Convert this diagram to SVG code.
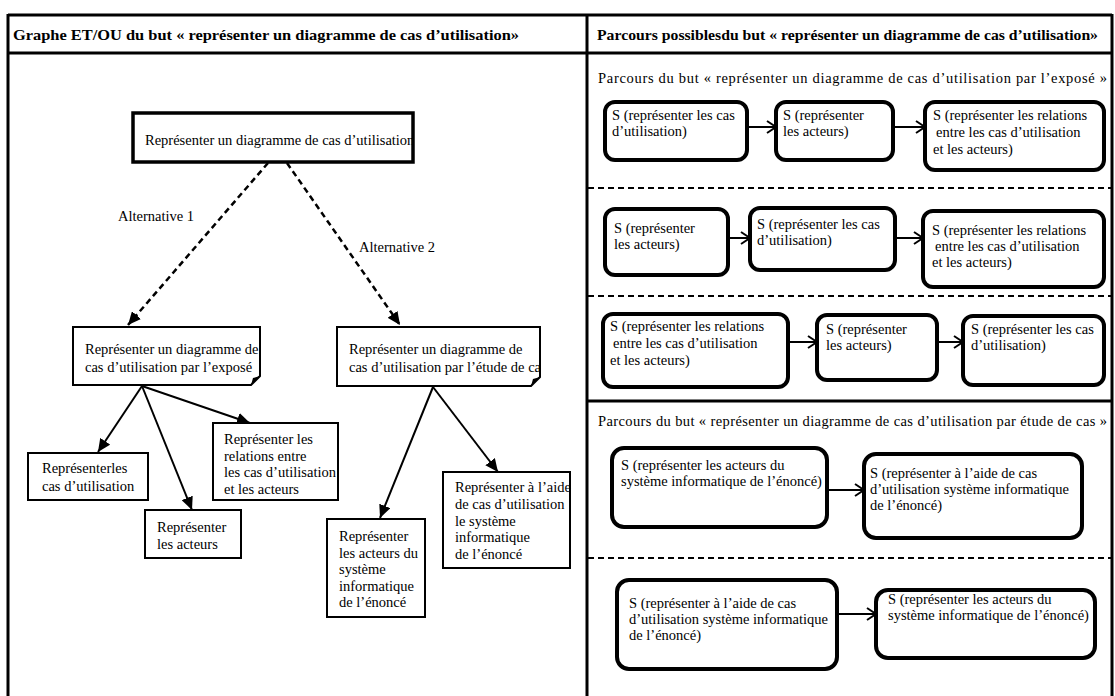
<svg xmlns="http://www.w3.org/2000/svg" width="1115" height="696" viewBox="0 0 1115 696">
<style>
.t{font-family:"Liberation Serif","Times New Roman","DejaVu Serif",serif;font-size:14.5px;fill:#000}
.hb{font-weight:bold;font-size:14px}
.box{fill:#fff;stroke:#000;stroke-width:2}
.rbox{fill:#fff;stroke:#000;stroke-width:4}
.conn{stroke:#000;stroke-width:2;fill:none}
.dash{stroke-dasharray:6 4;stroke-width:2.5}
.frame{stroke:#000;stroke-width:3;fill:none}
.sep{stroke:#000;stroke-width:2;stroke-dasharray:6 4;fill:none}
</style>
<defs>
<marker id="tri" markerUnits="userSpaceOnUse" markerWidth="14" markerHeight="12" refX="13" refY="6" orient="auto">
<path d="M0,0 L13,6 L0,12 z" fill="#000"/>
</marker>
<marker id="chev" markerUnits="userSpaceOnUse" markerWidth="12" markerHeight="14" refX="10" refY="7" orient="auto">
<path d="M1,1 L10,7 L1,13" fill="none" stroke="#000" stroke-width="2"/>
</marker>
<clipPath id="c0"><rect x="133" y="113" width="280" height="49"/></clipPath>
<clipPath id="c1"><rect x="73" y="327" width="187" height="58"/></clipPath>
<clipPath id="c2"><rect x="337" y="327" width="203" height="59"/></clipPath>
</defs>
<rect width="1115" height="696" fill="#fff"/>
<g font-family="Liberation Serif, Times New Roman, DejaVu Serif, serif">
<g id="frame">
<line class="frame" x1="8" y1="15" x2="1112" y2="15"/>
<line class="frame" x1="8" y1="53" x2="1112" y2="53"/>
<line class="frame" x1="8" y1="14" x2="8" y2="696"/>
<line class="frame" x1="587" y1="14" x2="587" y2="696"/>
<line class="frame" x1="1112" y1="14" x2="1112" y2="696"/>
<line class="frame" x1="587" y1="401" x2="1112" y2="401"/>
<line class="sep" x1="588" y1="188" x2="1112" y2="188"/>
<line class="sep" x1="588" y1="296" x2="1112" y2="296"/>
<line class="sep" x1="588" y1="558" x2="1112" y2="558"/>
<text class="t hb" x="13" y="40" textLength="506" lengthAdjust="spacingAndGlyphs">Graphe ET/OU du but « représenter un diagramme de cas d’utilisation»</text>
<text class="t hb" x="597" y="40" textLength="501" lengthAdjust="spacingAndGlyphs">Parcours possiblesdu but « représenter un diagramme de cas d’utilisation»</text>
<text class="t" x="598" y="83" textLength="509" lengthAdjust="spacing">Parcours du but « représenter  un diagramme  de cas d’utilisation  par l’exposé »</text>
<text class="t" x="598" y="426" textLength="509" lengthAdjust="spacing">Parcours du but « représenter  un diagramme  de cas d’utilisation  par étude de cas »</text>
</g>

<g id="connectors">
<line class="conn dash" x1="268" y1="163" x2="128" y2="325" marker-end="url(#tri)"/>
<line class="conn dash" x1="287" y1="163" x2="400" y2="325" marker-end="url(#tri)"/>
<line class="conn" x1="142" y1="386" x2="98" y2="452" marker-end="url(#tri)"/>
<line class="conn" x1="142" y1="386" x2="192" y2="510" marker-end="url(#tri)"/>
<line class="conn" x1="142" y1="386" x2="250" y2="423" marker-end="url(#tri)"/>
<line class="conn" x1="433" y1="387" x2="380" y2="518" marker-end="url(#tri)"/>
<line class="conn" x1="433" y1="387" x2="498" y2="472" marker-end="url(#tri)"/>
<line class="conn" x1="747" y1="127" x2="776" y2="127" marker-end="url(#chev)"/>
<line class="conn" x1="893" y1="127" x2="925" y2="127" marker-end="url(#chev)"/>
<line class="conn" x1="728" y1="238" x2="750" y2="238" marker-end="url(#chev)"/>
<line class="conn" x1="895" y1="238" x2="923" y2="238" marker-end="url(#chev)"/>
<line class="conn" x1="788" y1="342" x2="817" y2="342" marker-end="url(#chev)"/>
<line class="conn" x1="937" y1="342" x2="963" y2="342" marker-end="url(#chev)"/>
<line class="conn" x1="827" y1="490" x2="864" y2="490" marker-end="url(#chev)"/>
<line class="conn" x1="837" y1="614" x2="876" y2="614" marker-end="url(#chev)"/>
<text class="t" x="118" y="221" font-size="14">Alternative 1</text>
<text class="t" x="359" y="252" font-size="14">Alternative 2</text>
</g>

<g id="n-root">
<rect x="133" y="113" width="280" height="49" fill="#fff" stroke="#000" stroke-width="3.5"/>
<text class="t" x="145" y="145" clip-path="url(#c0)">Représenter un diagramme de cas d’utilisation</text>
</g>
<g id="n-expose">
<path class="box" d="M73,327 H260 V376 L251,385 H73 Z"/>
<path d="M251,385 L253,378 L260,376 Z" fill="#000"/>
<text class="t" clip-path="url(#c1)"><tspan x="85" y="354">Représenter un diagramme de</tspan><tspan x="85" y="372">cas d’utilisation par l’exposé</tspan></text>
</g>
<g id="n-etude">
<path class="box" d="M337,327 H540 V377 L531,386 H337 Z"/>
<path d="M531,386 L533,379 L540,377 Z" fill="#000"/>
<text class="t" clip-path="url(#c2)"><tspan x="349" y="354">Représenter un diagramme de</tspan><tspan x="349" y="372">cas d’utilisation par l’étude de cas</tspan></text>
</g>
<g id="n-cas">
<rect class="box" x="28" y="453" width="120" height="47"/>
<text class="t"><tspan x="42" y="473">Représenterles</tspan><tspan x="42" y="491">cas d’utilisation</tspan></text>
</g>
<g id="n-acteurs">
<rect class="box" x="145" y="510" width="96" height="48"/>
<text class="t"><tspan x="157" y="532">Représenter</tspan><tspan x="157" y="549">les acteurs</tspan></text>
</g>
<g id="n-relations">
<rect class="box" x="213" y="423" width="125" height="77"/>
<text class="t"><tspan x="224" y="444">Représenter les</tspan><tspan x="224" y="461">relations entre</tspan><tspan x="224" y="477">les cas d’utilisation</tspan><tspan x="224" y="494">et les acteurs</tspan></text>
</g>
<g id="n-acteurs-sys">
<rect class="box" x="327" y="519" width="98" height="98"/>
<text class="t"><tspan x="339" y="541">Représenter</tspan><tspan x="339" y="558">les acteurs du</tspan><tspan x="339" y="574">système</tspan><tspan x="339" y="591">informatique</tspan><tspan x="339" y="607">de l’énoncé</tspan></text>
</g>
<g id="n-aide">
<rect class="box" x="443" y="472" width="127" height="96"/>
<text class="t"><tspan x="455" y="492">Représenter à l’aide</tspan><tspan x="455" y="509">de cas d’utilisation</tspan><tspan x="455" y="526">le système</tspan><tspan x="455" y="542">informatique</tspan><tspan x="455" y="559">de l’énoncé</tspan></text>
</g>

<g id="r1-b1">
<rect class="rbox" x="605" y="102" width="142" height="58" rx="10"/>
<text class="t"><tspan x="612" y="120">S (représenter les cas</tspan><tspan x="612" y="136">d’utilisation)</tspan></text>
</g>
<g id="r1-b2">
<rect class="rbox" x="776" y="102" width="117" height="58" rx="10"/>
<text class="t"><tspan x="783" y="120">S (représenter</tspan><tspan x="783" y="136">les acteurs)</tspan></text>
</g>
<g id="r1-b3">
<rect class="rbox" x="925" y="102" width="179" height="68" rx="10"/>
<text class="t"><tspan x="933" y="120">S (représenter les relations</tspan><tspan x="936" y="137">entre les cas d’utilisation</tspan><tspan x="933" y="154">et les acteurs)</tspan></text>
</g>

<g id="r2-b1">
<rect class="rbox" x="605" y="209" width="123" height="66" rx="10"/>
<text class="t"><tspan x="614" y="233">S (représenter</tspan><tspan x="614" y="249">les acteurs)</tspan></text>
</g>
<g id="r2-b2">
<rect class="rbox" x="750" y="208" width="145" height="62" rx="10"/>
<text class="t"><tspan x="757" y="229">S (représenter les cas</tspan><tspan x="757" y="245">d’utilisation)</tspan></text>
</g>
<g id="r2-b3">
<rect class="rbox" x="923" y="211" width="181" height="76" rx="10"/>
<text class="t"><tspan x="932" y="235">S (représenter les relations</tspan><tspan x="935" y="251">entre les cas d’utilisation</tspan><tspan x="932" y="267">et les acteurs)</tspan></text>
</g>

<g id="r3-b1">
<rect class="rbox" x="603" y="314" width="185" height="73" rx="10"/>
<text class="t"><tspan x="610" y="331">S (représenter les relations</tspan><tspan x="613" y="348">entre les cas d’utilisation</tspan><tspan x="610" y="365">et les acteurs)</tspan></text>
</g>
<g id="r3-b2">
<rect class="rbox" x="817" y="315" width="120" height="65" rx="10"/>
<text class="t"><tspan x="826" y="334">S (représenter</tspan><tspan x="826" y="350">les acteurs)</tspan></text>
</g>
<g id="r3-b3">
<rect class="rbox" x="963" y="316" width="141" height="69" rx="10"/>
<text class="t"><tspan x="971" y="334">S (représenter les cas</tspan><tspan x="971" y="350">d’utilisation)</tspan></text>
</g>

<g id="r4-b1">
<rect class="rbox" x="612" y="448" width="215" height="79" rx="12"/>
<text class="t"><tspan x="621" y="470">S (représenter les acteurs du</tspan><tspan x="621" y="486">système informatique de l’énoncé)</tspan></text>
</g>
<g id="r4-b2">
<rect class="rbox" x="864" y="454" width="218" height="84" rx="12"/>
<text class="t"><tspan x="870" y="478">S (représenter à l’aide de cas</tspan><tspan x="870" y="494">d’utilisation système informatique</tspan><tspan x="870" y="510">de l’énoncé)</tspan></text>
</g>

<g id="r5-b1">
<rect class="rbox" x="617" y="580" width="220" height="89" rx="12"/>
<text class="t"><tspan x="629" y="608">S (représenter à l’aide de cas</tspan><tspan x="629" y="624">d’utilisation système informatique</tspan><tspan x="629" y="640">de l’énoncé)</tspan></text>
</g>
<g id="r5-b2">
<rect class="rbox" x="876" y="590" width="219" height="68" rx="12"/>
<text class="t"><tspan x="888" y="604">S (représenter les acteurs du</tspan><tspan x="888" y="620">système informatique de l’énoncé)</tspan></text>
</g>
</g>
</svg>
